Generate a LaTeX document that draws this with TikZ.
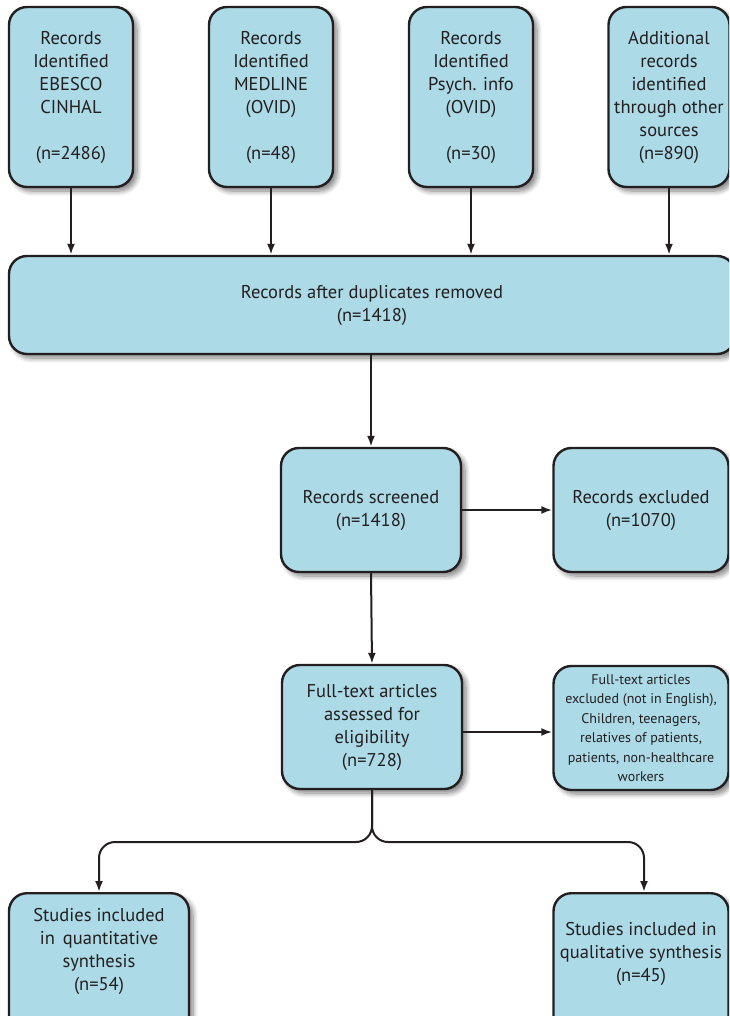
\documentclass[tikz,border=0pt]{standalone}
\usepackage{fontspec}
\setmainfont{PT Sans}
\usetikzlibrary{arrows.meta,shadows.blur}
\definecolor{boxfill}{RGB}{172,218,230}
\definecolor{ink}{RGB}{35,31,32}
\tikzset{
  flowbox/.style={draw=ink, line width=2.4pt, fill=boxfill, rounded corners=18pt,
    align=center, inner sep=0pt, text=ink,
    blur shadow={shadow xshift=4pt, shadow yshift=-4pt, shadow blur steps=8, shadow blur radius=5pt, shadow opacity=50}},
  boxtext/.style={align=center, inner sep=0pt, text=ink},
  flow/.style={draw=ink, line width=2pt, -{Latex[length=11pt,width=8pt]}},
}
\begin{document}
\begin{tikzpicture}[x=1pt, y=-1pt, font=\fontsize{18.5}{23}\selectfont]
\useasboundingbox (0,0) rectangle (729,1016);
\clip (0,0) rectangle (729,1016);

% identification sources
\node[flowbox, minimum width=124pt, minimum height=180pt] (s1) at (71,97)
  {Records\\Identified\\EBESCO\\CINHAL\\\\(n=2486)};
\node[flowbox, minimum width=124pt, minimum height=180pt] (s2) at (271,97)
  {Records\\Identified\\MEDLINE\\(OVID)\\\\(n=48)};
\node[flowbox, minimum width=124pt, minimum height=180pt] (s3) at (471,97)
  {Records\\Identified\\Psych. info\\(OVID)\\\\(n=30)};
\node[flowbox, minimum width=121pt, minimum height=180pt] (s4) at (669,97)
  {Additional\\records\\identified\\through other\\sources\\(n=890)};

% merged records
\node[flowbox, minimum width=726pt, minimum height=98pt] (dup) at (372,305)
  {Records after duplicates removed\\(n=1418)};

% screening
\node[flowbox, minimum width=180pt, minimum height=124pt] (scr) at (371,510)
  {Records screened\\(n=1418)};
\node[flowbox, minimum width=175pt, minimum height=124pt] (exc) at (641,510)
  {Records excluded\\(n=1070)};

% eligibility
\node[flowbox, minimum width=180pt, minimum height=124pt] (ft) at (372,727)
  {Full-text articles\\assessed for\\eligibility\\(n=728)};
\node[flowbox, minimum width=175pt, minimum height=124pt, font=\fontsize{14}{19.5}\selectfont] (ftx) at (641,728)
  {Full-text articles\\excluded (not in English),\\Children, teenagers,\\relatives of patients,\\patients, non-healthcare\\workers};

% included studies
\node[flowbox, minimum width=180pt, minimum height=160pt, anchor=north] (qn) at (99,892) {};
\node[boxtext] (qnt) at (99,951) {Studies included\\in\, quantitative\\synthesis\\(n=54)};
\node[flowbox, minimum width=175pt, minimum height=160pt, anchor=north] (ql) at (641,892) {};
\node[boxtext] (qlt) at (641,954) {Studies included in\\qualitative synthesis\\(n=45)};

% connectors
\foreach \s in {s1,s2,s3,s4}
  \draw[flow] (\s.south) -- (\s.south |- dup.north);
\draw[flow] (scr.north |- dup.south) -- (scr.north);
\draw[flow] (scr.east) -- (exc.west);
\draw[flow] (scr.south) -- (ft.north);
\draw[flow] ([yshift=-5pt]ft.east) -- ([yshift=-5pt]ft.east -| ftx.west);
\coordinate (split) at (372,842);
\draw[flow, rounded corners=16pt] (ft.south) -- (split) -- (split -| qn.north) -- (qn.north);
\draw[flow, rounded corners=16pt] (ft.south) -- (split) -- (split -| 644,0) -- (644,892);
\end{tikzpicture}
\end{document}
